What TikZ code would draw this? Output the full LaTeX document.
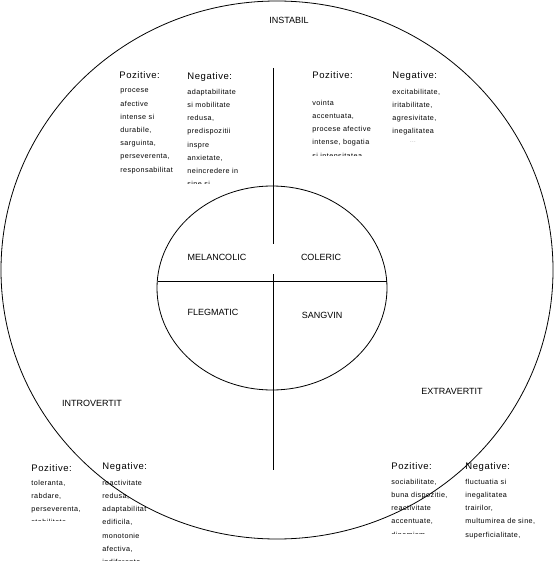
\documentclass[tikz,border=0pt]{standalone}
\usepackage{fontspec}
\setmainfont{Liberation Sans}
\newfontfamily\spacedfont[LetterSpace=6]{Liberation Sans}
\usetikzlibrary{shapes.geometric}

\begin{document}
\begin{tikzpicture}[x=1pt,y=-1pt,line width=0.8pt,
  typelabel/.style={font=\fontsize{9}{11}\selectfont,inner sep=0pt},
  headlabel/.style={font=\spacedfont\fontsize{9.5}{11}\selectfont,anchor=base west,inner sep=0pt},
  traitlist/.style={font=\spacedfont\fontsize{7.2}{13.2}\selectfont,anchor=north west,align=left,
    inner sep=0pt,execute at begin node={\rule{0pt}{5.2pt}}}]
  \useasboundingbox (0,0) rectangle (554,567);

  % outer circle and inner circle
  \node[draw,ellipse,minimum width=552,minimum height=538,inner sep=0pt] (outer) at (277,270) {};
  \node[draw,ellipse,minimum width=230,minimum height=204,inner sep=0pt] (core) at (272,288) {};

  % axes
  \coordinate (axtop) at (273,68);
  \coordinate (gapa) at (273,244);
  \coordinate (gapb) at (273,274);
  \coordinate (axbottom) at (273,470);
  \coordinate (axleft) at (157.5,281);
  \coordinate (axright) at (386.5,281);
  \draw (axtop) -- (gapa);
  \draw (gapb) -- (axbottom);
  \draw (axleft) -- (axright);

  % dimensions
  \node[typelabel] (instabil) at (289,20) {INSTABIL};
  \node[typelabel] (introvertit) at (92,403) {INTROVERTIT};
  \node[typelabel] (extravertit) at (452,391) {EXTRAVERTIT};

  % temperaments
  \node[typelabel] (melancolic) at (217,257) {MELANCOLIC};
  \node[typelabel] (coleric) at (321,257) {COLERIC};
  \node[typelabel] (flegmatic) at (213,312) {FLEGMATIC};
  \node[typelabel] (sangvin) at (322,315) {SANGVIN};

  % melancolic traits
  \node[headlabel] (melpoz) at (119,78.4) {Pozitive:};
  \node[traitlist] (melpozlist) at (120,88.7) {procese\\afective\\intense si\\durabile,\\sarguinta,\\perseverenta,\\responsabilitat};
  \node[headlabel] (melneg) at (187,79.4) {Negative:};
  \begin{scope}
    \clip (180,60) rectangle (272,183);
    \node[traitlist] (melneglist) at (187,88.7) {adaptabilitate\\si mobilitate\\redusa,\\predispozitii\\inspre\\anxietate,\\neincredere in\\sine si};
  \end{scope}

  % coleric traits
  \node[headlabel] (colpoz) at (312,78.4) {Pozitive:};
  \begin{scope}
    \clip (305,60) rectangle (390,155);
    \node[traitlist] (colpozlist) at (312,99.7) {vointa\\accentuata,\\procese afective\\intense, bogatia\\si intensitatea};
  \end{scope}
  \node[headlabel] (colneg) at (392,78.4) {Negative:};
  \begin{scope}
    \clip (385,60) rectangle (480,141.5);
    \node[traitlist] (colneglist) at (392,88.7) {excitabilitate,\\iritabilitate,\\agresivitate,\\inegalitatea\\emotiilor};
  \end{scope}

  % flegmatic traits
  \node[headlabel] (flepoz) at (31,471.4) {Pozitive:};
  \begin{scope}
    \clip (25,460) rectangle (100,520.5);
    \node[traitlist] (flepozlist) at (31,479.7) {toleranta,\\rabdare,\\perseverenta,\\stabilitate};
  \end{scope}
  \node[headlabel] (fleneg) at (102,469.4) {Negative:};
  \begin{scope}
    \clip (95,460) rectangle (200,560);
    \node[traitlist] (flenelist) at (102,479.7) {reactivitate\\redusa,\\adaptabilitat\\edificila,\\monotonie\\afectiva,\\indiferenta};
  \end{scope}

  % sangvin traits
  \node[headlabel] (sanpoz) at (391,469.4) {Pozitive:};
  \begin{scope}
    \clip (385,460) rectangle (462,533);
    \node[traitlist] (sanpozlist) at (391,478.7) {sociabilitate,\\buna dispozitie,\\reactivitate\\accentuate,\\dinamism};
  \end{scope}
  \node[headlabel] (sanneg) at (465,469.4) {Negative:};
  \node[traitlist] (sanneglist) at (465,478.7) {fluctuatia si\\inegalitatea\\trairilor,\\multumirea de sine,\\superficialitate,};
\end{tikzpicture}
\end{document}
